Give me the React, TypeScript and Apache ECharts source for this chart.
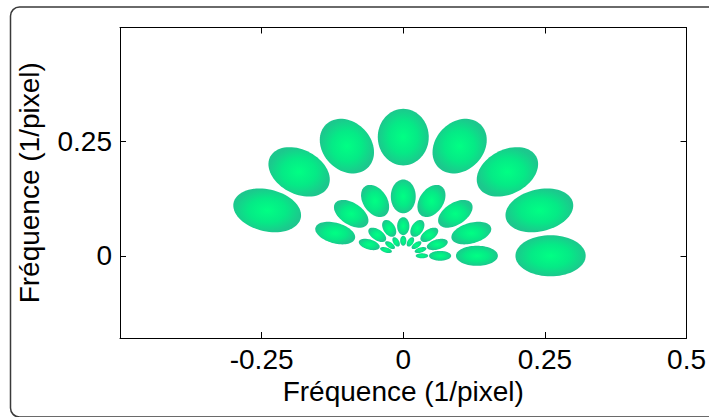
import React, { useEffect, useRef } from "react";
import * as echarts from "echarts";

// Filter bank: 4 scales (rings) x 8 orientations
const orientationsDeg = [0, 22.5, 45, 67.5, 90, 112.5, 135, 157.5];
const ringRadius = [0.26, 0.13, 0.065, 0.033];
const radialSemiAxis = [0.062, 0.037, 0.0195, 0.011];
const tangentialSemiAxis = [0.045, 0.022, 0.0108, 0.0055];

const yTickValues = [0, 0.25];
const axisTitle = "Fréquence (1/pixel)";

const FONT = "'Liberation Sans', Arial, sans-serif";
const FS = 28;

export default function App() {
  const ref = useRef<HTMLDivElement>(null);

  useEffect(() => {
    document.body.style.margin = "0";
    if (!ref.current) return;
    const chart = echarts.init(ref.current, null, { renderer: "svg" });

    const data: number[][] = [];
    ringRadius.forEach((r, s) => {
      orientationsDeg.forEach((deg) => {
        const th = (deg * Math.PI) / 180;
        data.push([r * Math.cos(th), r * Math.sin(th), radialSemiAxis[s], tangentialSemiAxis[s], deg]);
      });
    });

    const fill = new echarts.graphic.RadialGradient(0.5, 0.5, 0.5, [
      { offset: 0, color: "#00ff84" },
      { offset: 0.55, color: "#05ea86" },
      { offset: 1, color: "#1cc88d" },
    ]);

    const renderItem = (params: any, api: any) => {
      const cx = api.value(0);
      const cy = api.value(1);
      const a = api.value(2);
      const b = api.value(3);
      const th = (api.value(4) * Math.PI) / 180;
      const pts: number[][] = [];
      const n = 72;
      for (let i = 0; i < n; i++) {
        const t = (i / n) * Math.PI * 2;
        const px = cx + a * Math.cos(th) * Math.cos(t) - b * Math.sin(th) * Math.sin(t);
        const py = cy + a * Math.sin(th) * Math.cos(t) + b * Math.cos(th) * Math.sin(t);
        pts.push(api.coord([px, py]));
      }
      return {
        type: "polygon",
        shape: { points: pts },
        style: { fill: fill, stroke: "none" },
      };
    };

    const baseAxisLine = { show: true, onZero: false, lineStyle: { color: "#000", width: 1 } };
    const tick = { show: true, inside: true, length: 6, lineStyle: { color: "#000" } };

    chart.setOption({
      animation: false,
      backgroundColor: "#fff",
      grid: { left: 120, right: 20, top: 27.5, bottom: 79 },
      xAxis: [
        {
          type: "value",
          min: -0.5,
          max: 0.5,
          interval: 0.25,
          position: "bottom",
          axisLine: baseAxisLine,
          axisTick: tick,
          splitLine: { show: false },
          axisLabel: {
            color: "#000",
            fontSize: FS,
            fontFamily: FONT,
            margin: 7,
            showMinLabel: false,
            showMaxLabel: true,
            formatter: (v: number) => (v === -0.5 ? "" : String(v)),
          },
          name: axisTitle,
          nameLocation: "middle",
          nameGap: 33,
          nameTextStyle: { color: "#000", fontSize: FS, fontFamily: FONT },
        },
        {
          type: "value",
          min: -0.5,
          max: 0.5,
          interval: 0.25,
          position: "top",
          axisLine: baseAxisLine,
          axisTick: tick,
          splitLine: { show: false },
          axisLabel: { show: false },
        },
      ],
      yAxis: [
        {
          type: "value",
          min: -0.18,
          max: 0.5,
          position: "left",
          axisLine: baseAxisLine,
          axisTick: { ...tick, customValues: yTickValues },
          splitLine: { show: false },
          axisLabel: {
            color: "#000",
            fontSize: FS,
            fontFamily: FONT,
            margin: 8,
            customValues: yTickValues,
            formatter: (v: number) => String(v),
          },
          name: axisTitle,
          nameLocation: "middle",
          nameGap: 77,
          nameRotate: 90,
          nameTextStyle: { color: "#000", fontSize: FS, fontFamily: FONT },
        },
        {
          type: "value",
          min: -0.18,
          max: 0.5,
          position: "right",
          axisLine: baseAxisLine,
          axisTick: { ...tick, customValues: yTickValues },
          splitLine: { show: false },
          axisLabel: { show: false },
        },
      ],
      graphic: [
        {
          type: "rect",
          shape: { x: 10.5, y: 7, width: 740, height: 410, r: 9 },
          style: { fill: "none", stroke: "#3a3a3a", lineWidth: 1.5 },
          silent: true,
          z: 100,
        },
      ],
      series: [
        {
          type: "custom",
          renderItem: renderItem,
          data: data,
          xAxisIndex: 0,
          yAxisIndex: 0,
          clip: true,
        },
      ],
    });

    return () => chart.dispose();
  }, []);

  return <div ref={ref} style={{ width: 709, height: 417 }} />;
}
